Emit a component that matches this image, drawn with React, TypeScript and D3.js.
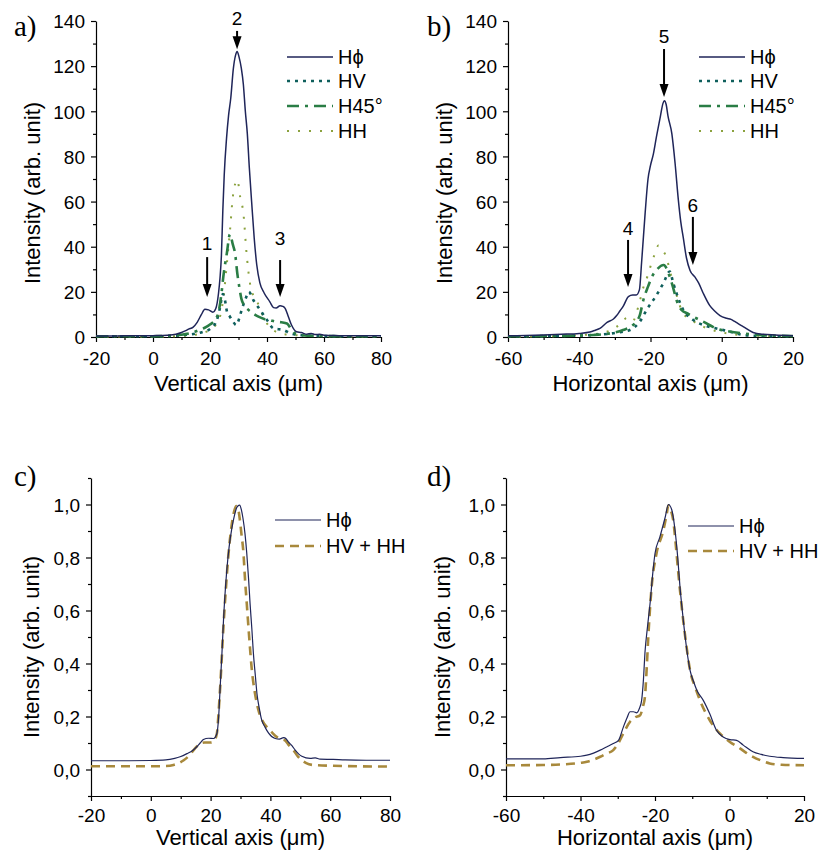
import React, { useEffect, useRef } from 'react';
import * as d3 from 'd3';

type Pt = [number, number];

// ---- panel a: vertical profiles ----
const aHphi: Pt[] = [[-20,0.4],[-15,0.4],[-10,0.5],[-5,0.5],[0,0.6],[5,0.8],[8,1.2],[10,2],[11.5,2.8],[12.5,3.5],[14,4.3],[15.5,6.5],[17,10],[18.2,12.3],[19.5,12],[21,11],[22,12.5],[23,19.5],[23.5,26],[24,36],[24.5,56],[25,72],[25.8,88],[26.5,98],[27.3,106],[28.2,119],[29,125],[29.5,126.5],[30.2,124],[31,119],[31.7,112],[32.4,100],[33.1,90],[33.8,75],[34.6,60],[35.5,44],[36.4,32],[37.5,24],[39,19.5],[41,15.6],[42.3,13],[43.2,12.8],[44.6,13.9],[45.5,13.6],[46.3,12.8],[47.5,9],[48.6,5.3],[50.4,2.3],[52,2],[54,1.2],[55.5,1.6],[57,1.1],[58.5,1.2],[60,0.8],[65,0.6],[70,0.5],[75,0.5],[80,0.5]];
const aHV: Pt[] = [[-20,0.3],[0,0.3],[10,0.8],[15,1.5],[18,2.5],[20,3.5],[22.4,7.5],[23.5,13],[24.5,19],[25.3,16],[26,11],[27,9],[28,7],[29.2,5.3],[30.2,8],[31.1,12],[32.5,17],[33.6,20],[35.2,16.4],[37.6,12],[40,7.5],[42.3,3.8],[45.8,3.1],[48.2,1.6],[52,0.8],[60,0.4],[80,0.3]];
const aH45: Pt[] = [[-20,0.3],[0,0.3],[10,1],[14,2],[16,3],[18,4],[20,5.5],[22,8],[23,11],[24,19],[24.7,27],[25.9,37],[27,45.5],[28,41],[28.8,37],[29.6,28],[30.3,22],[31,17],[32,14],[33.5,12],[35,10.5],[37,9],[39,8],[41,7.5],[43,6.8],[45,6.5],[47,6],[48.5,3.5],[50,1.5],[52,0.8],[60,0.4],[80,0.3]];
const aHH: Pt[] = [[-20,0.2],[0,0.2],[10,0.5],[15,1],[18,2],[20,3],[21.2,4],[22.5,6.5],[23.5,9],[24.9,19.5],[25.8,31],[27,47],[28.1,63],[29.6,69.6],[30.6,62],[31.7,55],[32.9,36],[34,24],[35,19],[36.4,16],[38.7,9],[40,6],[42.2,3.1],[45,1.5],[50,0.8],[60,0.3],[80,0.2]];

// ---- panel b: horizontal profiles ----
const bHphi: Pt[] = [[-60,0.5],[-55,0.7],[-50,0.9],[-45,1.2],[-40,1.6],[-37,2.2],[-35.5,3],[-34.2,3.8],[-32.2,6.5],[-30.4,8],[-29.5,9.5],[-28.6,11.5],[-27.6,13.8],[-26.2,17.9],[-25,18.6],[-24,18.6],[-23.1,21],[-22.5,33],[-21.5,55],[-20.7,70],[-20,76],[-19.2,81],[-18.3,89],[-17.2,98],[-16.5,103.5],[-16.1,104.7],[-15.6,103],[-15.1,98],[-14,90],[-13.1,77],[-12.2,61],[-11.5,51],[-10.8,44],[-9.9,35],[-8.9,29.5],[-7.5,26.5],[-6.5,24],[-5.2,19.4],[-3.4,14],[-2,11.5],[-0.5,9.5],[1.4,8.3],[2.6,7.8],[3.5,7],[4.5,6],[6,4.6],[8.8,2],[11.6,1.2],[15,0.9],[20,0.6]];
const bHV: Pt[] = [[-60,0.3],[-45,0.5],[-35,1],[-29.5,1.9],[-25.8,3.1],[-23,6.8],[-21.1,12],[-18.3,18.6],[-16.4,23.8],[-14.6,29],[-13.6,23.8],[-12.7,19.4],[-10.8,12],[-8,7.5],[-5.2,5.3],[-1.5,3.8],[2.2,2.4],[6,0.9],[10,0.5],[20,0.3]];
const bH45: Pt[] = [[-60,0.3],[-45,0.5],[-36,0.9],[-31.4,1.6],[-27.7,3.1],[-24.9,5.3],[-23,9.7],[-22,16.4],[-20.7,22.3],[-19.5,27],[-18.3,29.7],[-16.3,31.9],[-14.6,26.7],[-13.5,21],[-12.7,16.4],[-11.3,12],[-9.5,10.3],[-8,9],[-5.2,6.8],[-1.5,3.8],[2.2,2.4],[6,1.6],[10.7,0.9],[20,0.4]];
const bHH: Pt[] = [[-60,0.2],[-45,0.4],[-38,1],[-33,2],[-30,4],[-28,6.5],[-26.7,8.4],[-25,7],[-23.5,13],[-22,22],[-20.6,28],[-19.5,34],[-18.7,37],[-17.8,40.5],[-17,39],[-15.6,35.6],[-14.5,29],[-13.1,21],[-11.8,14],[-10.8,10.5],[-8,7],[-5.2,4.6],[-2,2.8],[2,1.5],[8,0.7],[20,0.3]];

// ---- panel c: normalised vertical ----
const cHphi: Pt[] = [[-20,0.033],[-10,0.033],[0,0.034],[5,0.036],[8,0.042],[9.8,0.048],[12.1,0.06],[14,0.072],[15.4,0.086],[16.5,0.1],[17.6,0.113],[19.3,0.118],[21,0.117],[22.1,0.136],[22.7,0.2],[23.2,0.31],[23.8,0.44],[24.3,0.56],[25.4,0.75],[26.2,0.84],[27.1,0.91],[28,0.96],[28.8,0.99],[29.7,0.998],[30.3,0.98],[30.8,0.95],[31.5,0.89],[32.1,0.815],[32.7,0.72],[33.2,0.626],[33.8,0.53],[34.3,0.44],[35,0.35],[35.5,0.287],[36.3,0.23],[37.1,0.186],[38.2,0.16],[39.4,0.137],[41.6,0.117],[43,0.115],[44.4,0.12],[45.3,0.115],[46,0.104],[47.2,0.09],[48.3,0.073],[49.5,0.058],[50.5,0.05],[53.3,0.042],[55,0.044],[56.6,0.039],[61,0.038],[65,0.036],[72,0.035],[80,0.035]];
const cSum: Pt[] = [[-20,0.012],[-10,0.012],[0,0.012],[5,0.013],[7.6,0.017],[9.5,0.025],[11,0.035],[12.8,0.052],[14.3,0.073],[15.5,0.088],[16.5,0.098],[18,0.102],[20,0.102],[21,0.106],[22.1,0.136],[22.7,0.22],[23.2,0.31],[24.3,0.54],[25.1,0.68],[26,0.815],[26.9,0.91],[27.7,0.966],[28.6,0.994],[29.2,0.985],[29.7,0.95],[30.3,0.89],[31,0.815],[31.5,0.72],[32.1,0.626],[32.9,0.5],[33.8,0.375],[34.8,0.29],[36,0.224],[37.3,0.185],[38.8,0.16],[40.5,0.14],[42.1,0.123],[43.5,0.115],[44.9,0.11],[46.3,0.09],[47.7,0.073],[49,0.052],[50.5,0.035],[52,0.024],[54.4,0.017],[61,0.014],[70,0.012],[80,0.011]];

// ---- panel d: normalised horizontal ----
const dHphi: Pt[] = [[-60,0.04],[-50,0.04],[-45.4,0.045],[-40,0.05],[-38.3,0.054],[-36.5,0.062],[-34.7,0.073],[-33,0.085],[-31.2,0.098],[-29.8,0.11],[-28.5,0.16],[-27.5,0.195],[-26.7,0.218],[-25.8,0.218],[-24.9,0.214],[-24.2,0.23],[-23.6,0.26],[-23.1,0.34],[-22.7,0.44],[-22,0.54],[-21.3,0.63],[-20.6,0.74],[-20,0.815],[-18.7,0.877],[-17.3,0.95],[-16.4,1.0],[-15.5,0.98],[-14.6,0.9],[-13.9,0.8],[-13.3,0.69],[-12.6,0.59],[-11.9,0.5],[-10.6,0.375],[-9.6,0.33],[-8.8,0.3],[-7,0.26],[-5.3,0.21],[-3.5,0.148],[-1.7,0.123],[0.1,0.113],[1.9,0.11],[3.7,0.092],[6.3,0.067],[8.5,0.057],[10.8,0.05],[14.4,0.045],[20,0.042]];
const dSum: Pt[] = [[-60,0.016],[-50,0.017],[-45.4,0.019],[-40,0.025],[-38.3,0.029],[-36.5,0.037],[-34.7,0.048],[-33,0.06],[-31.2,0.073],[-29.8,0.1],[-28.5,0.136],[-26.7,0.18],[-25.3,0.197],[-24,0.205],[-23.2,0.24],[-22.7,0.274],[-22.2,0.39],[-21.8,0.5],[-20.9,0.69],[-19.6,0.815],[-17.8,0.9],[-16.9,0.96],[-16.4,0.997],[-15.8,0.98],[-15.1,0.94],[-14.5,0.86],[-13.8,0.75],[-12.4,0.56],[-11.5,0.46],[-10.6,0.375],[-9.2,0.31],[-7.9,0.26],[-5.3,0.186],[-2.6,0.136],[0.1,0.104],[2.8,0.08],[4.5,0.063],[6.3,0.048],[8.5,0.034],[10.8,0.023],[14,0.018],[20,0.016]];

// tick values
const vertMajor = [-20, 0, 20, 40, 60, 80];
const vertMinor = [-10, 10, 30, 50, 70];
const horMajor = [-60, -40, -20, 0, 20];
const horMinor = [-50, -30, -10, 10];
const absMajor = [0, 20, 40, 60, 80, 100, 120, 140];
const absMinor = [10, 30, 50, 70, 90, 110, 130];
const normMajor = [0, 0.2, 0.4, 0.6, 0.8, 1.0];
const normMinor = [-0.1, 0.1, 0.3, 0.5, 0.7, 0.9, 1.1];

// arrows: x, top, tip, label position (data units)
const aArrows = [
  { x: 19, y1: 35.4, y2: 17.7, ly: 38.5, label: '1' },
  { x: 29.5, y1: 135.6, y2: 127.5, ly: 138.2, label: '2' },
  { x: 44.6, y1: 34.1, y2: 17.7, ly: 40.8, label: '3' },
];
const bArrows = [
  { x: -26.3, y1: 43, y2: 22.2, ly: 45.2, label: '4' },
  { x: -16.2, y1: 127.6, y2: 106.3, ly: 130.3, label: '5' },
  { x: -8.1, y1: 53.2, y2: 31.9, ly: 55.4, label: '6' },
];

const FONT = '"Liberation Sans", Arial, Helvetica, sans-serif';
const SERIF = '"Liberation Serif", "Times New Roman", serif';
const NAVY = '#1f2559';
const TEAL = '#0f5f5c';
const GREEN = '#2a7d45';
const OLIVE = '#8ba23e';
const GOLD = '#a8893c';

const fmtNorm = (d: number) => d.toFixed(1).replace('.', ',');

function fourSeries(hphi: Pt[], hv: Pt[], h45: Pt[], hh: Pt[]) {
  return [
    { data: hh, name: 'HH', color: OLIVE, width: 2, dash: '2,9' },
    { data: hv, name: 'HV', color: TEAL, width: 2.6, dash: '3,5' },
    { data: h45, name: 'H45°', color: GREEN, width: 2.6, dash: '12,6,3,6' },
    { data: hphi, name: 'Hϕ', color: NAVY, width: 1.5, dash: null },
  ];
}

const panels = [
  {
    tag: 'a)', tagX: 14, tagY: 36,
    left: 96, right: 381, top: 21, bottom: 337,
    xDomain: [-20, 80], yDomain: [0, 140],
    xMajor: vertMajor, xMinor: vertMinor, yMajor: absMajor, yMinor: absMinor,
    yFormat: (d: number) => String(d), tickY: 28,
    xTitle: 'Vertical axis (μm)', xTitleY: 391, yTitleX: 40, yTitleY: 193,
    series: fourSeries(aHphi, aHV, aH45, aHH),
    legend: ['Hϕ', 'HV', 'H45°', 'HH'], legendX: 287, legendY: [57, 81, 106, 131],
    arrows: aArrows,
  },
  {
    tag: 'b)', tagX: 427, tagY: 36,
    left: 508, right: 793, top: 21, bottom: 337,
    xDomain: [-60, 20], yDomain: [0, 140],
    xMajor: horMajor, xMinor: horMinor, yMajor: absMajor, yMinor: absMinor,
    yFormat: (d: number) => String(d), tickY: 28,
    xTitle: 'Horizontal axis (μm)', xTitleY: 391, yTitleX: 452, yTitleY: 193,
    series: fourSeries(bHphi, bHV, bH45, bHH),
    legend: ['Hϕ', 'HV', 'H45°', 'HH'], legendX: 699, legendY: [57, 81, 106, 131],
    arrows: bArrows,
  },
  {
    tag: 'c)', tagX: 14, tagY: 486,
    left: 91, right: 390, top: 478, bottom: 796,
    xDomain: [-20, 80], yDomain: [-0.1, 1.1],
    xMajor: vertMajor, xMinor: vertMinor, yMajor: normMajor, yMinor: normMinor,
    yFormat: fmtNorm, tickY: 26,
    xTitle: 'Vertical axis (μm)', xTitleY: 845, yTitleX: 39, yTitleY: 647,
    series: [
      { data: cSum, name: 'HV + HH', color: GOLD, width: 2.6, dash: '9,6' },
      { data: cHphi, name: 'Hϕ', color: NAVY, width: 1.2, dash: null },
    ],
    legend: ['Hϕ', 'HV + HH'], legendX: 275, legendY: [520, 546],
    arrows: [],
  },
  {
    tag: 'd)', tagX: 427, tagY: 486,
    left: 506, right: 804, top: 478, bottom: 796,
    xDomain: [-60, 20], yDomain: [-0.1, 1.1],
    xMajor: horMajor, xMinor: horMinor, yMajor: normMajor, yMinor: normMinor,
    yFormat: fmtNorm, tickY: 26,
    xTitle: 'Horizontal axis (μm)', xTitleY: 845, yTitleX: 450, yTitleY: 647,
    series: [
      { data: dSum, name: 'HV + HH', color: GOLD, width: 2.6, dash: '9,6' },
      { data: dHphi, name: 'Hϕ', color: NAVY, width: 1.2, dash: null },
    ],
    legend: ['Hϕ', 'HV + HH'], legendX: 688, legendY: [526, 551],
    arrows: [],
  },
];

function drawPanel(svg: d3.Selection<SVGSVGElement, unknown, null, undefined>, p: any) {
  const x = d3.scaleLinear().domain(p.xDomain).range([p.left, p.right]);
  const y = d3.scaleLinear().domain(p.yDomain).range([p.bottom, p.top]);
  const g = svg.append('g');

  // axes: major ticks with labels, then minor ticks
  const xAxis = g.append('g').attr('transform', `translate(0,${p.bottom})`)
    .call(d3.axisBottom(x).tickValues(p.xMajor).tickSize(5).tickSizeOuter(0).tickFormat((d: any) => String(d)));
  xAxis.attr('font-family', FONT).attr('font-size', 19);
  xAxis.selectAll('text').attr('y', p.tickY).attr('dy', null).attr('fill', '#000');
  g.append('g').attr('transform', `translate(0,${p.bottom})`)
    .call(d3.axisBottom(x).tickValues(p.xMinor).tickSize(3).tickSizeOuter(0).tickFormat(() => ''))
    .select('.domain').remove();

  const yAxis = g.append('g').attr('transform', `translate(${p.left},0)`)
    .call(d3.axisLeft(y).tickValues(p.yMajor).tickSize(5).tickSizeOuter(0).tickPadding(6).tickFormat(p.yFormat));
  yAxis.attr('font-family', FONT).attr('font-size', 19);
  yAxis.selectAll('text').attr('fill', '#000').attr('dy', '0.36em');
  g.append('g').attr('transform', `translate(${p.left},0)`)
    .call(d3.axisLeft(y).tickValues(p.yMinor).tickSize(3).tickSizeOuter(0).tickFormat(() => ''))
    .select('.domain').remove();

  g.selectAll('.domain, .tick line').attr('stroke', '#000').attr('stroke-width', 1.2);

  // titles
  g.append('text').attr('x', (p.left + p.right) / 2).attr('y', p.xTitleY)
    .attr('text-anchor', 'middle').attr('font-family', FONT).attr('font-size', 22)
    .text(p.xTitle);
  g.append('text').attr('transform', `translate(${p.yTitleX},${p.yTitleY}) rotate(-90)`)
    .attr('text-anchor', 'middle').attr('font-family', FONT).attr('font-size', 22)
    .text('Intensity (arb. unit)');
  g.append('text').attr('x', p.tagX).attr('y', p.tagY)
    .attr('font-family', SERIF).attr('font-size', 29).text(p.tag);

  // curves
  const line = d3.line<Pt>().x(d => x(d[0])).y(d => y(d[1])).curve(d3.curveMonotoneX);
  p.series.forEach((s: any) => {
    g.append('path').datum(s.data).attr('d', line).attr('fill', 'none')
      .attr('stroke', s.color).attr('stroke-width', s.width)
      .attr('stroke-dasharray', s.dash).attr('stroke-linejoin', 'round');
  });

  // legend
  p.legend.forEach((name: string, i: number) => {
    const s = p.series.find((q: any) => q.name === name);
    const ly = p.legendY[i];
    g.append('line').attr('x1', p.legendX).attr('x2', p.legendX + 46).attr('y1', ly).attr('y2', ly)
      .attr('stroke', s.color).attr('stroke-width', s.width).attr('stroke-dasharray', s.dash);
    g.append('text').attr('x', p.legendX + 51).attr('y', ly + 7)
      .attr('font-family', FONT).attr('font-size', 20).text(name);
  });

  // arrows
  p.arrows.forEach((a: any) => {
    const ax = x(a.x), top = y(a.y1), tip = y(a.y2);
    g.append('line').attr('x1', ax).attr('x2', ax).attr('y1', top).attr('y2', tip - 10)
      .attr('stroke', '#000').attr('stroke-width', 2);
    g.append('path').attr('d', `M${ax},${tip} L${ax - 4.5},${tip - 13} L${ax + 4.5},${tip - 13} Z`)
      .attr('fill', '#000');
    g.append('text').attr('x', ax).attr('y', y(a.ly)).attr('text-anchor', 'middle')
      .attr('font-family', FONT).attr('font-size', 19).text(a.label);
  });
}

export default function App() {
  const ref = useRef<SVGSVGElement>(null);
  useEffect(() => {
    const svg = d3.select(ref.current!);
    svg.selectAll('*').remove();
    panels.forEach(p => drawPanel(svg as any, p));
  }, []);
  return (
    <svg ref={ref} width={818} height={852}
      style={{ position: 'absolute', left: 0, top: 0, background: '#fff' }} />
  );
}
